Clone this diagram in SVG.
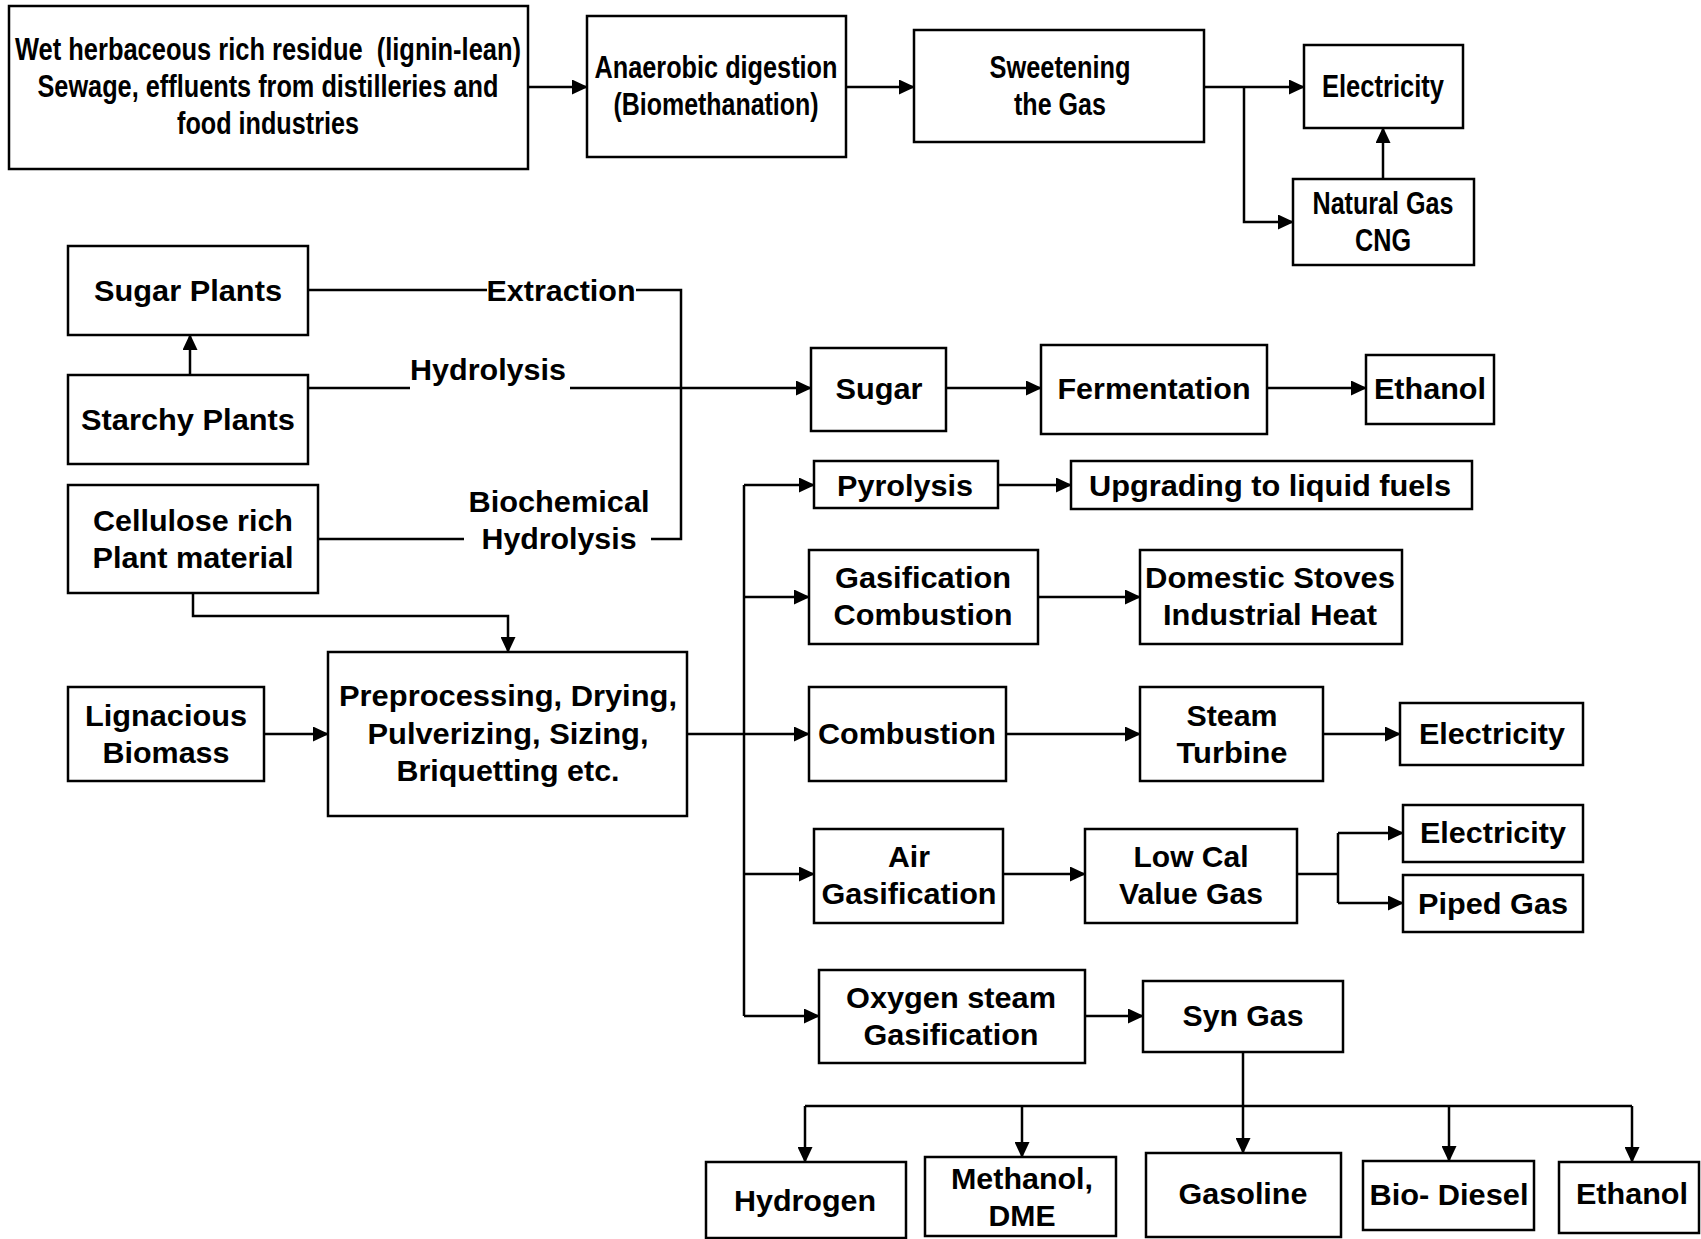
<svg xmlns="http://www.w3.org/2000/svg" width="1701" height="1239" viewBox="0 0 1701 1239">
<style>
rect{fill:#fff;stroke:#000;stroke-width:2.5}
.c path{fill:none;stroke:#000;stroke-width:2.5}
text{font-family:"Liberation Sans",Arial,sans-serif;font-weight:bold;font-size:30px;text-anchor:middle;dominant-baseline:central;fill:#000}
text.n{font-family:"Liberation Sans Narrow","Liberation Sans",Arial,sans-serif;font-size:31px}
</style>
<defs>
<marker id="a" markerUnits="userSpaceOnUse" markerWidth="16" markerHeight="15" refX="15" refY="7.5" orient="auto">
<path d="M0,0 L16,7.5 L0,15 z" fill="#000"/>
</marker>
</defs>
<rect x="0" y="0" width="1701" height="1239" style="stroke:none"/>
<g class="c" id="connectors">
<path d="M528,87 H587" marker-end="url(#a)"/>
<path d="M846,87 H914" marker-end="url(#a)"/>
<path d="M1204,87 H1304" marker-end="url(#a)"/>
<path d="M1244,87 V222 H1293" marker-end="url(#a)"/>
<path d="M1383,179 V128" marker-end="url(#a)"/>
<path d="M308,290 H487"/>
<path d="M636,290 H681 V539 H651"/>
<path d="M318,539 H464"/>
<path d="M308,388 H410"/>
<path d="M570,388 H811" marker-end="url(#a)"/>
<path d="M190,375 V335" marker-end="url(#a)"/>
<path d="M946,388 H1041" marker-end="url(#a)"/>
<path d="M1267,388 H1366" marker-end="url(#a)"/>
<path d="M193,593 V616 H508 V652" marker-end="url(#a)"/>
<path d="M264,734 H328" marker-end="url(#a)"/>
<path d="M687,734 H809" marker-end="url(#a)"/>
<path d="M744,485 V1016"/>
<path d="M744,485 H814" marker-end="url(#a)"/>
<path d="M744,597 H809" marker-end="url(#a)"/>
<path d="M744,874 H814" marker-end="url(#a)"/>
<path d="M744,1016 H819" marker-end="url(#a)"/>
<path d="M998,485 H1071" marker-end="url(#a)"/>
<path d="M1038,597 H1140" marker-end="url(#a)"/>
<path d="M1006,734 H1140" marker-end="url(#a)"/>
<path d="M1323,734 H1400" marker-end="url(#a)"/>
<path d="M1003,874 H1085" marker-end="url(#a)"/>
<path d="M1297,874 H1338"/>
<path d="M1338,833 V903"/>
<path d="M1338,833 H1403" marker-end="url(#a)"/>
<path d="M1338,903 H1403" marker-end="url(#a)"/>
<path d="M1085,1016 H1143" marker-end="url(#a)"/>
<path d="M1243,1052 V1153" marker-end="url(#a)"/>
<path d="M805,1106 H1632"/>
<path d="M805,1106 V1162" marker-end="url(#a)"/>
<path d="M1022,1106 V1157" marker-end="url(#a)"/>
<path d="M1449,1106 V1161" marker-end="url(#a)"/>
<path d="M1632,1106 V1162" marker-end="url(#a)"/>
<text x="561" y="290" textLength="149" lengthAdjust="spacingAndGlyphs">Extraction</text>
<text x="488" y="369" textLength="156" lengthAdjust="spacingAndGlyphs">Hydrolysis</text>
<text x="559" y="501" textLength="181" lengthAdjust="spacingAndGlyphs">Biochemical</text>
<text x="559" y="538" textLength="155" lengthAdjust="spacingAndGlyphs">Hydrolysis</text>
</g>
<g id="wet">
<rect x="9" y="6" width="519" height="163"/>
<text class="n" x="268" y="49" textLength="506" lengthAdjust="spacingAndGlyphs" xml:space="preserve">Wet herbaceous rich residue  (lignin-lean)</text>
<text class="n" x="268" y="86" textLength="461" lengthAdjust="spacingAndGlyphs">Sewage, effluents from distilleries and</text>
<text class="n" x="268" y="123" textLength="182" lengthAdjust="spacingAndGlyphs">food industries</text>
</g>
<g id="anaerobic">
<rect x="587" y="16" width="259" height="141"/>
<text class="n" x="716" y="67" textLength="243" lengthAdjust="spacingAndGlyphs">Anaerobic digestion</text>
<text class="n" x="716" y="104" textLength="205" lengthAdjust="spacingAndGlyphs">(Biomethanation)</text>
</g>
<g id="sweetening">
<rect x="914" y="30" width="290" height="112"/>
<text class="n" x="1060" y="67" textLength="141" lengthAdjust="spacingAndGlyphs">Sweetening</text>
<text class="n" x="1060" y="104" textLength="92" lengthAdjust="spacingAndGlyphs">the Gas</text>
</g>
<g id="electricity-top">
<rect x="1304" y="45" width="159" height="83"/>
<text class="n" x="1383" y="86" textLength="122" lengthAdjust="spacingAndGlyphs">Electricity</text>
</g>
<g id="natural-gas">
<rect x="1293" y="179" width="181" height="86"/>
<text class="n" x="1383" y="203" textLength="141" lengthAdjust="spacingAndGlyphs">Natural Gas</text>
<text class="n" x="1383" y="240" textLength="56" lengthAdjust="spacingAndGlyphs">CNG</text>
</g>
<g id="sugar-plants">
<rect x="68" y="246" width="240" height="89"/>
<text x="188" y="290" textLength="188" lengthAdjust="spacingAndGlyphs">Sugar Plants</text>
</g>
<g id="starchy-plants">
<rect x="68" y="375" width="240" height="89"/>
<text x="188" y="419" textLength="214" lengthAdjust="spacingAndGlyphs">Starchy Plants</text>
</g>
<g id="cellulose">
<rect x="68" y="485" width="250" height="108"/>
<text x="193" y="520" textLength="200" lengthAdjust="spacingAndGlyphs">Cellulose rich</text>
<text x="193" y="557" textLength="201" lengthAdjust="spacingAndGlyphs">Plant material</text>
</g>
<g id="sugar">
<rect x="811" y="348" width="135" height="83"/>
<text x="879" y="388" textLength="87" lengthAdjust="spacingAndGlyphs">Sugar</text>
</g>
<g id="fermentation">
<rect x="1041" y="345" width="226" height="89"/>
<text x="1154" y="388" textLength="193" lengthAdjust="spacingAndGlyphs">Fermentation</text>
</g>
<g id="ethanol-top">
<rect x="1366" y="355" width="128" height="69"/>
<text x="1430" y="388" textLength="112" lengthAdjust="spacingAndGlyphs">Ethanol</text>
</g>
<g id="lignacious">
<rect x="68" y="687" width="196" height="94"/>
<text x="166" y="715" textLength="162" lengthAdjust="spacingAndGlyphs">Lignacious</text>
<text x="166" y="752" textLength="127" lengthAdjust="spacingAndGlyphs">Biomass</text>
</g>
<g id="preprocessing">
<rect x="328" y="652" width="359" height="164"/>
<text x="508" y="695" textLength="338" lengthAdjust="spacingAndGlyphs">Preprocessing, Drying,</text>
<text x="508" y="733" textLength="281" lengthAdjust="spacingAndGlyphs">Pulverizing, Sizing,</text>
<text x="508" y="770" textLength="223" lengthAdjust="spacingAndGlyphs">Briquetting etc.</text>
</g>
<g id="pyrolysis">
<rect x="814" y="461" width="184" height="47"/>
<text x="905" y="485" textLength="136" lengthAdjust="spacingAndGlyphs">Pyrolysis</text>
</g>
<g id="upgrading">
<rect x="1071" y="461" width="401" height="48"/>
<text x="1270" y="485" textLength="362" lengthAdjust="spacingAndGlyphs">Upgrading to liquid fuels</text>
</g>
<g id="gasification-combustion">
<rect x="809" y="550" width="229" height="94"/>
<text x="923" y="577" textLength="176" lengthAdjust="spacingAndGlyphs">Gasification</text>
<text x="923" y="614" textLength="179" lengthAdjust="spacingAndGlyphs">Combustion</text>
</g>
<g id="domestic">
<rect x="1140" y="550" width="262" height="94"/>
<text x="1270" y="577" textLength="250" lengthAdjust="spacingAndGlyphs">Domestic Stoves</text>
<text x="1270" y="614" textLength="214" lengthAdjust="spacingAndGlyphs">Industrial Heat</text>
</g>
<g id="combustion">
<rect x="809" y="687" width="197" height="94"/>
<text x="907" y="733" textLength="178" lengthAdjust="spacingAndGlyphs">Combustion</text>
</g>
<g id="steam-turbine">
<rect x="1140" y="687" width="183" height="94"/>
<text x="1232" y="715" textLength="91" lengthAdjust="spacingAndGlyphs">Steam</text>
<text x="1232" y="752" textLength="111" lengthAdjust="spacingAndGlyphs">Turbine</text>
</g>
<g id="electricity-1">
<rect x="1400" y="703" width="183" height="62"/>
<text x="1492" y="733" textLength="146" lengthAdjust="spacingAndGlyphs">Electricity</text>
</g>
<g id="air-gasification">
<rect x="814" y="829" width="189" height="94"/>
<text x="909" y="856" textLength="42" lengthAdjust="spacingAndGlyphs">Air</text>
<text x="909" y="893" textLength="175" lengthAdjust="spacingAndGlyphs">Gasification</text>
</g>
<g id="low-cal">
<rect x="1085" y="829" width="212" height="94"/>
<text x="1191" y="856" textLength="115" lengthAdjust="spacingAndGlyphs">Low Cal</text>
<text x="1191" y="893" textLength="144" lengthAdjust="spacingAndGlyphs">Value Gas</text>
</g>
<g id="electricity-2">
<rect x="1403" y="805" width="180" height="57"/>
<text x="1493" y="832" textLength="146" lengthAdjust="spacingAndGlyphs">Electricity</text>
</g>
<g id="piped-gas">
<rect x="1403" y="875" width="180" height="57"/>
<text x="1493" y="903" textLength="150" lengthAdjust="spacingAndGlyphs">Piped Gas</text>
</g>
<g id="oxygen-steam">
<rect x="819" y="970" width="266" height="93"/>
<text x="951" y="997" textLength="210" lengthAdjust="spacingAndGlyphs">Oxygen steam</text>
<text x="951" y="1034" textLength="175" lengthAdjust="spacingAndGlyphs">Gasification</text>
</g>
<g id="syn-gas">
<rect x="1143" y="981" width="200" height="71"/>
<text x="1243" y="1015" textLength="121" lengthAdjust="spacingAndGlyphs">Syn Gas</text>
</g>
<g id="hydrogen">
<rect x="706" y="1162" width="200" height="76"/>
<text x="805" y="1200" textLength="142" lengthAdjust="spacingAndGlyphs">Hydrogen</text>
</g>
<g id="methanol">
<rect x="925" y="1157" width="191" height="79"/>
<text x="1022" y="1178" textLength="142" lengthAdjust="spacingAndGlyphs">Methanol,</text>
<text x="1022" y="1215" textLength="67" lengthAdjust="spacingAndGlyphs">DME</text>
</g>
<g id="gasoline">
<rect x="1146" y="1153" width="195" height="84"/>
<text x="1243" y="1193" textLength="129" lengthAdjust="spacingAndGlyphs">Gasoline</text>
</g>
<g id="bio-diesel">
<rect x="1363" y="1161" width="171" height="69"/>
<text x="1449" y="1194" textLength="159" lengthAdjust="spacingAndGlyphs">Bio- Diesel</text>
</g>
<g id="ethanol-bottom">
<rect x="1559" y="1162" width="140" height="71"/>
<text x="1632" y="1193" textLength="112" lengthAdjust="spacingAndGlyphs">Ethanol</text>
</g>
</svg>
